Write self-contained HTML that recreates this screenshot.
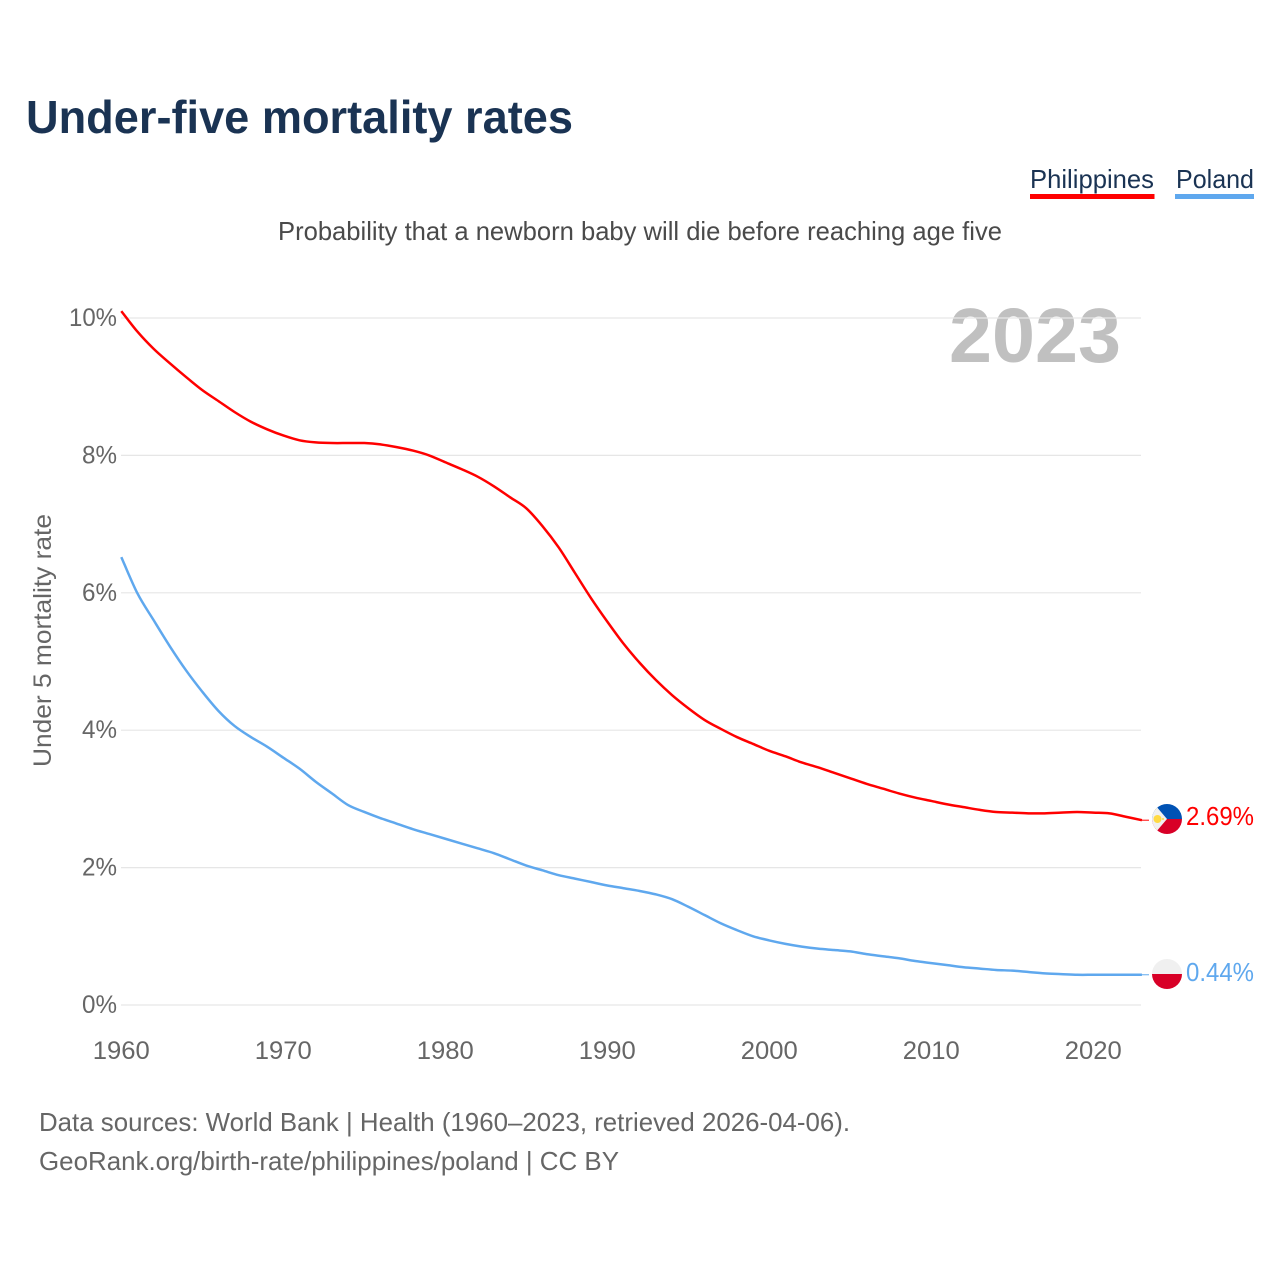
<!DOCTYPE html>
<html lang="en">
<head>
<meta charset="utf-8">
<title>Under-five mortality rates</title>
<style>
html,body{margin:0;padding:0;background:#fff;width:1280px;height:1280px;overflow:hidden}
svg{display:block;font-family:"Liberation Sans",sans-serif}
</style>
</head>
<body>
<svg id="chart" width="1280" height="1280" viewBox="0 0 1280 1280" xmlns="http://www.w3.org/2000/svg">
  <defs>
    <clipPath id="clip-ph"><circle cx="1167" cy="819" r="15"/></clipPath>
    <clipPath id="clip-pl"><circle cx="1167" cy="974" r="15"/></clipPath>
  </defs>
  <text x="26" y="133" font-size="46" font-weight="700" fill="#1a3353" textLength="547" lengthAdjust="spacingAndGlyphs">Under-five mortality rates</text>
  <g>
    <g>
      <text x="1030" y="188" font-size="26" fill="#1a3353" textLength="124" lengthAdjust="spacingAndGlyphs">Philippines</text>
      <rect x="1030" y="194" width="124.5" height="5" fill="#ff0000"/>
    </g>
    <g>
      <text x="1176" y="188" font-size="26" fill="#1a3353" textLength="78" lengthAdjust="spacingAndGlyphs">Poland</text>
      <rect x="1175" y="194" width="79" height="5" fill="#5fa8ee"/>
    </g>
  </g>
  <text x="278" y="240" font-size="26" fill="#4a4a4a" textLength="724" lengthAdjust="spacingAndGlyphs">Probability that a newborn baby will die before reaching age five</text>
  <text x="949" y="362" font-size="77" font-weight="700" fill="#c0c0c0" textLength="172" lengthAdjust="spacingAndGlyphs">2023</text>
  <g id="grid"></g>
  <g id="yticks"></g>
  <g id="xticks"></g>
  <text transform="translate(51,767) rotate(-90)" font-size="25" fill="#666" textLength="253" lengthAdjust="spacingAndGlyphs">Under 5 mortality rate</text>
  <g id="series"></g>
  <g clip-path="url(#clip-ph)">
    <rect x="1152" y="804" width="30" height="15" fill="#0052b4"/>
    <rect x="1152" y="819" width="30" height="15" fill="#d80027"/>
    <polygon points="1150,799 1150,839 1167,819" fill="#f0f0f0"/>
    <circle cx="1157.5" cy="819" r="4" fill="#ffda44"/>
    <circle cx="1155" cy="809" r="1" fill="#ffda44"/>
    <circle cx="1155" cy="829" r="1" fill="#ffda44"/>
    <circle cx="1163" cy="819" r="1" fill="#ffda44"/>
  </g>
  <g clip-path="url(#clip-pl)">
    <rect x="1152" y="959" width="30" height="15" fill="#f0f0f0"/>
    <rect x="1152" y="974" width="30" height="15" fill="#d80027"/>
  </g>
  <text id="label-ph" x="1186" y="825" font-size="26" fill="#ff0000" textLength="68" lengthAdjust="spacingAndGlyphs"></text>
  <text id="label-pl" x="1186" y="981" font-size="26" fill="#5fa8ee" textLength="68" lengthAdjust="spacingAndGlyphs"></text>
  <g>
    <text x="39" y="1131" font-size="26" fill="#666" textLength="811" lengthAdjust="spacingAndGlyphs">Data sources: World Bank | Health (1960–2023, retrieved 2026-04-06).</text>
    <text x="39" y="1170" font-size="26" fill="#666" textLength="580" lengthAdjust="spacingAndGlyphs">GeoRank.org/birth-rate/philippines/poland | CC BY</text>
  </g>
</svg>
<script>
const startYear = 1960;
const yTickValues = [0, 2, 4, 6, 8, 10];
const xTickValues = [1960, 1970, 1980, 1990, 2000, 2010, 2020];
const philippines = [10.10,9.80,9.55,9.34,9.14,8.95,8.79,8.63,8.49,8.38,8.29,8.22,8.19,8.18,8.18,8.18,8.16,8.12,8.07,8.00,7.90,7.80,7.69,7.55,7.39,7.23,6.97,6.66,6.29,5.92,5.58,5.26,4.98,4.73,4.51,4.32,4.15,4.02,3.90,3.80,3.70,3.62,3.53,3.46,3.38,3.30,3.22,3.15,3.08,3.02,2.97,2.92,2.88,2.84,2.81,2.80,2.79,2.79,2.80,2.81,2.80,2.79,2.74,2.69];
const poland = [6.52,5.99,5.60,5.22,4.87,4.56,4.28,4.06,3.90,3.76,3.60,3.44,3.25,3.08,2.91,2.81,2.72,2.64,2.56,2.49,2.42,2.35,2.28,2.21,2.12,2.03,1.96,1.89,1.84,1.79,1.74,1.70,1.66,1.61,1.54,1.43,1.31,1.19,1.09,1.00,0.94,0.89,0.85,0.82,0.80,0.78,0.74,0.71,0.68,0.64,0.61,0.58,0.55,0.53,0.51,0.50,0.48,0.46,0.45,0.44,0.44,0.44,0.44,0.44];

const NS = 'http://www.w3.org/2000/svg';
const xScale = year => 121.3 + (year - 1960) * 16.2;
const yScale = value => 1005 - value * 68.7;

function make(tag, attrs, parent, text) {
  const el = document.createElementNS(NS, tag);
  for (const k in attrs) el.setAttribute(k, attrs[k]);
  if (text !== undefined) el.textContent = text;
  parent.appendChild(el);
  return el;
}

const grid = document.getElementById('grid');
const yticks = document.getElementById('yticks');
yTickValues.forEach(v => {
  const line = make('line', {x1: 121, x2: 1141, y1: yScale(v), y2: yScale(v), stroke: '#e6e6e6', 'stroke-width': 1.2}, grid);
  
  
  const label = make('text', {x: 117, y: yScale(v) + 8, 'text-anchor': 'end', 'font-size': 25, fill: '#666', textLength: v === 10 ? 48 : 35, lengthAdjust: 'spacingAndGlyphs'}, yticks, v + '%');
  
  
});

const xticks = document.getElementById('xticks');
xTickValues.forEach(y => {
  const label = make('text', {x: xScale(y), y: 1059, 'text-anchor': 'middle', 'font-size': 25, fill: '#666', textLength: 57, lengthAdjust: 'spacingAndGlyphs'}, xticks, String(y));
  
  
});

function smoothPath(values) {
  const p = values.map((v, i) => [xScale(startYear + i), yScale(v)]);
  let d = 'M' + p[0][0].toFixed(2) + ',' + p[0][1].toFixed(2);
  for (let i = 0; i < p.length - 1; i++) {
    const a = p[Math.max(i - 1, 0)], b = p[i], c = p[i + 1], e = p[Math.min(i + 2, p.length - 1)];
    d += 'C' + (b[0] + (c[0] - a[0]) / 6).toFixed(2) + ',' + (b[1] + (c[1] - a[1]) / 6).toFixed(2) +
         ' ' + (c[0] - (e[0] - b[0]) / 6).toFixed(2) + ',' + (c[1] - (e[1] - b[1]) / 6).toFixed(2) +
         ' ' + c[0].toFixed(2) + ',' + c[1].toFixed(2);
  }
  return d;
}

const seriesGroup = document.getElementById('series');
function drawSeries(values, color, name) {
  const line = make('path', {d: smoothPath(values), fill: 'none', stroke: color, 'stroke-width': 2.5, 'stroke-linejoin': 'round'}, seriesGroup);
  
  
  const lastY = yScale(values[values.length - 1]);
  const lead = make('line', {x1: 1141, x2: 1149, y1: lastY, y2: lastY, stroke: color, 'stroke-width': 1}, seriesGroup);
  
  
}
drawSeries(philippines, '#ff0000', 'line-philippines');
drawSeries(poland, '#5fa8ee', 'line-poland');

document.getElementById('label-ph').textContent = philippines[philippines.length - 1].toFixed(2) + '%';
document.getElementById('label-pl').textContent = poland[poland.length - 1].toFixed(2) + '%';
</script>
</body>
</html>
